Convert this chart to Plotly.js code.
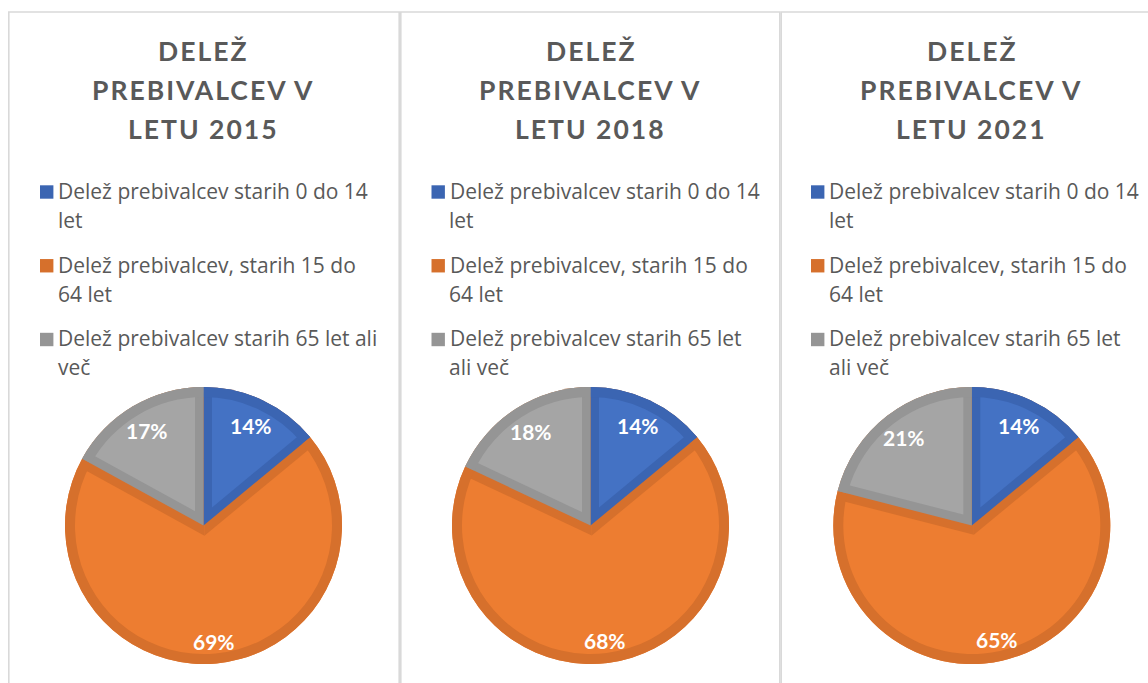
<!DOCTYPE html>
<html>
<head>
<meta charset="utf-8">
<script src="https://cdn.plot.ly/plotly-3.0.1.min.js"></script>
<style>
html, body { margin: 0; padding: 0; background: #ffffff; }
#chart { width: 1148px; height: 683px; }
</style>
</head>
<body>
<div id="chart"></div>
<script>
// ---------------- data ----------------
const years = [2015, 2018, 2021];
const categories = [
  "Delež prebivalcev starih 0 do 14 let",
  "Delež prebivalcev, starih 15 do 64 let",
  "Delež prebivalcev starih 65 let ali več"
];
const share2015 = [14, 69, 17];
const share2018 = [14, 68, 18];
const share2021 = [14, 65, 21];
const titleLines = ["DELEŽ", "PREBIVALCEV V", "LETU"];
// number of words kept on the first legend line (legend wrapping per panel)
const legendWrap2015 = [6, 5, 6];
const legendWrap2018 = [6, 5, 5];
const legendWrap2021 = [6, 5, 5];

// ---------------- layout / style ----------------
const W = 1148, H = 683;
const fillColors = ['#4472C4', '#ED7D31', '#A5A5A5'];
const edgeColors = ['#3B65B2', '#D6702C', '#959595'];
const CLEAR = 'rgba(0,0,0,0)';
const TEXT = '#595959';
const FONT = 'Lato, "Open Sans", sans-serif';
const LEGEND_FONT = '"Open Sans", Lato, sans-serif';
const CY = 525.5, R = 138.5, EDGE = 8.5, RIM = 10;

const panels = [
  { year: years[0], values: share2015, wrap: legendWrap2015, cx: 203.5, keyX: 40.0, box: [8.8, 399.2] },
  { year: years[1], values: share2018, wrap: legendWrap2018, cx: 590.5, keyX: 431.5, box: [400.8, 779.8] },
  { year: years[2], values: share2021, wrap: legendWrap2021, cx: 971.8, keyX: 811.0, box: [781.2, 1170] }
];

function px(x) { return x / W; }
function py(y) { return 1 - y / H; }

function geometry(values) {
  const total = values.reduce((a, b) => a + b, 0);
  let cum = 0;
  return values.map(v => {
    const a0 = cum / total * 2 * Math.PI;
    cum += v;
    const a1 = cum / total * 2 * Math.PI;
    return { mid: (a0 + a1) / 2, half: (a1 - a0) / 2, pct: Math.round(v / total * 100) };
  });
}

function pie(values, colors, cx, cy, r, pull, hole) {
  const mp = pull ? Math.max(...pull) : 0;
  const h = r * (1 + mp);
  return {
    type: 'pie', labels: categories, values: values, sort: false,
    direction: 'clockwise', rotation: 0,
    marker: { colors: colors, line: { width: 0 } },
    pull: pull || 0, hole: hole || 0,
    textinfo: 'none', hoverinfo: 'skip', showlegend: false,
    domain: { x: [(cx - h) / W, (cx + h) / W], y: [1 - (cy + h) / H, 1 - (cy - h) / H] }
  };
}

function ann(text, x, baseline, size, color, weight, xanchor, family) {
  return {
    text: text, showarrow: false, xref: 'paper', yref: 'paper',
    x: px(x), y: py(baseline - 0.387 * size),
    xanchor: xanchor, yanchor: 'middle', borderpad: 0, borderwidth: 0,
    font: { family: family || FONT, size: size, color: color, weight: weight }
  };
}

const traces = [], annotations = [], shapes = [];
const titleTexts = new Set();

panels.forEach(p => {
  const v = p.values, cx = p.cx, g = geometry(v);
  const big = v.indexOf(Math.max(...v));

  // 1. light fill of the large slice as a full disk
  traces.push(pie(v, v.map(() => fillColors[big]), cx, CY, R));
  // 2. inner border band of the large slice (the other slices, widened)
  const sB = EDGE / Math.sin(g[big].half);
  const dx = Math.sin(g[big].mid), dy = -Math.cos(g[big].mid);
  const r2 = R - 1 + sB * Math.cos(Math.PI - g[big].half);
  traces.push(pie(v, v.map((_, i) => i === big ? CLEAR : edgeColors[big]), cx + sB * dx, CY + sB * dy, r2));
  // 3. the small slices in their border colours
  traces.push(pie(v, v.map((_, i) => i === big ? CLEAR : edgeColors[i]), cx, CY, R));
  // 4. the small slices' inner fills
  v.forEach((_, i) => {
    if (i === big) return;
    const s = EDGE / Math.sin(g[i].half);
    const ri = R - 0.5 - s;
    const pull = v.map((__, k) => k === i ? s / ri : 0);
    traces.push(pie(v, v.map((__, k) => k === i ? fillColors[i] : CLEAR), cx, CY, ri, pull));
  });
  // 5. outer rim
  traces.push(pie(v, edgeColors, cx, CY, R, null, (R - RIM) / R));

  // percentage labels
  g.forEach((gi, i) => {
    const rl = (gi.half > Math.PI / 2 ? 0.84 : 0.8) * R;
    const x = cx + rl * Math.sin(gi.mid), y = CY - rl * Math.cos(gi.mid);
    annotations.push({
      text: gi.pct + '%', showarrow: false, xref: 'paper', yref: 'paper',
      x: px(x), y: py(y), xanchor: 'center', yanchor: 'middle', borderpad: 0, borderwidth: 0,
      font: { family: FONT, size: 21, color: '#ffffff', weight: 700 }
    });
  });

  // title
  const tl = [titleLines[0], titleLines[1], titleLines[2] + ' ' + p.year];
  tl.forEach((t, j) => {
    titleTexts.add(t);
    annotations.push(ann(t, cx, 61.7 + 38.9 * j, 26.5, TEXT, 700, 'center'));
  });

  // legend
  categories.forEach((c, i) => {
    const words = c.split(' ');
    const lines = [words.slice(0, p.wrap[i]).join(' '), words.slice(p.wrap[i]).join(' ')];
    const base = 199 + 73.75 * i;
    shapes.push({
      type: 'rect', xref: 'paper', yref: 'paper',
      x0: px(p.keyX), x1: px(p.keyX + 13.4), y0: py(base - 0.3), y1: py(base - 13.7),
      fillcolor: edgeColors[i], line: { width: 0 }
    });
    lines.forEach((ln, j) => {
      annotations.push(ann(ln, p.keyX + 18, base + 29 * j, 21, TEXT, 400, 'left', LEGEND_FONT));
    });
  });

  // panel frame
  shapes.push({
    type: 'rect', xref: 'paper', yref: 'paper', layer: 'below',
    x0: px(p.box[0]), x1: px(p.box[1]), y0: py(720), y1: py(12),
    fillcolor: 'rgba(0,0,0,0)', line: { color: '#D9D9D9', width: 1.6 }
  });
});

const layout = {
  width: W, height: H,
  margin: { l: 0, r: 0, t: 0, b: 0 },
  paper_bgcolor: '#ffffff', plot_bgcolor: '#ffffff',
  showlegend: false,
  annotations: annotations, shapes: shapes,
  font: { family: FONT }
};

Plotly.newPlot('chart', traces, layout, { displayModeBar: false, staticPlot: true }).then(() => {
  document.querySelectorAll('.annotation-text').forEach(t => {
    if (titleTexts.has(t.textContent)) t.style.letterSpacing = '2px';
  });
});
</script>
</body>
</html>
